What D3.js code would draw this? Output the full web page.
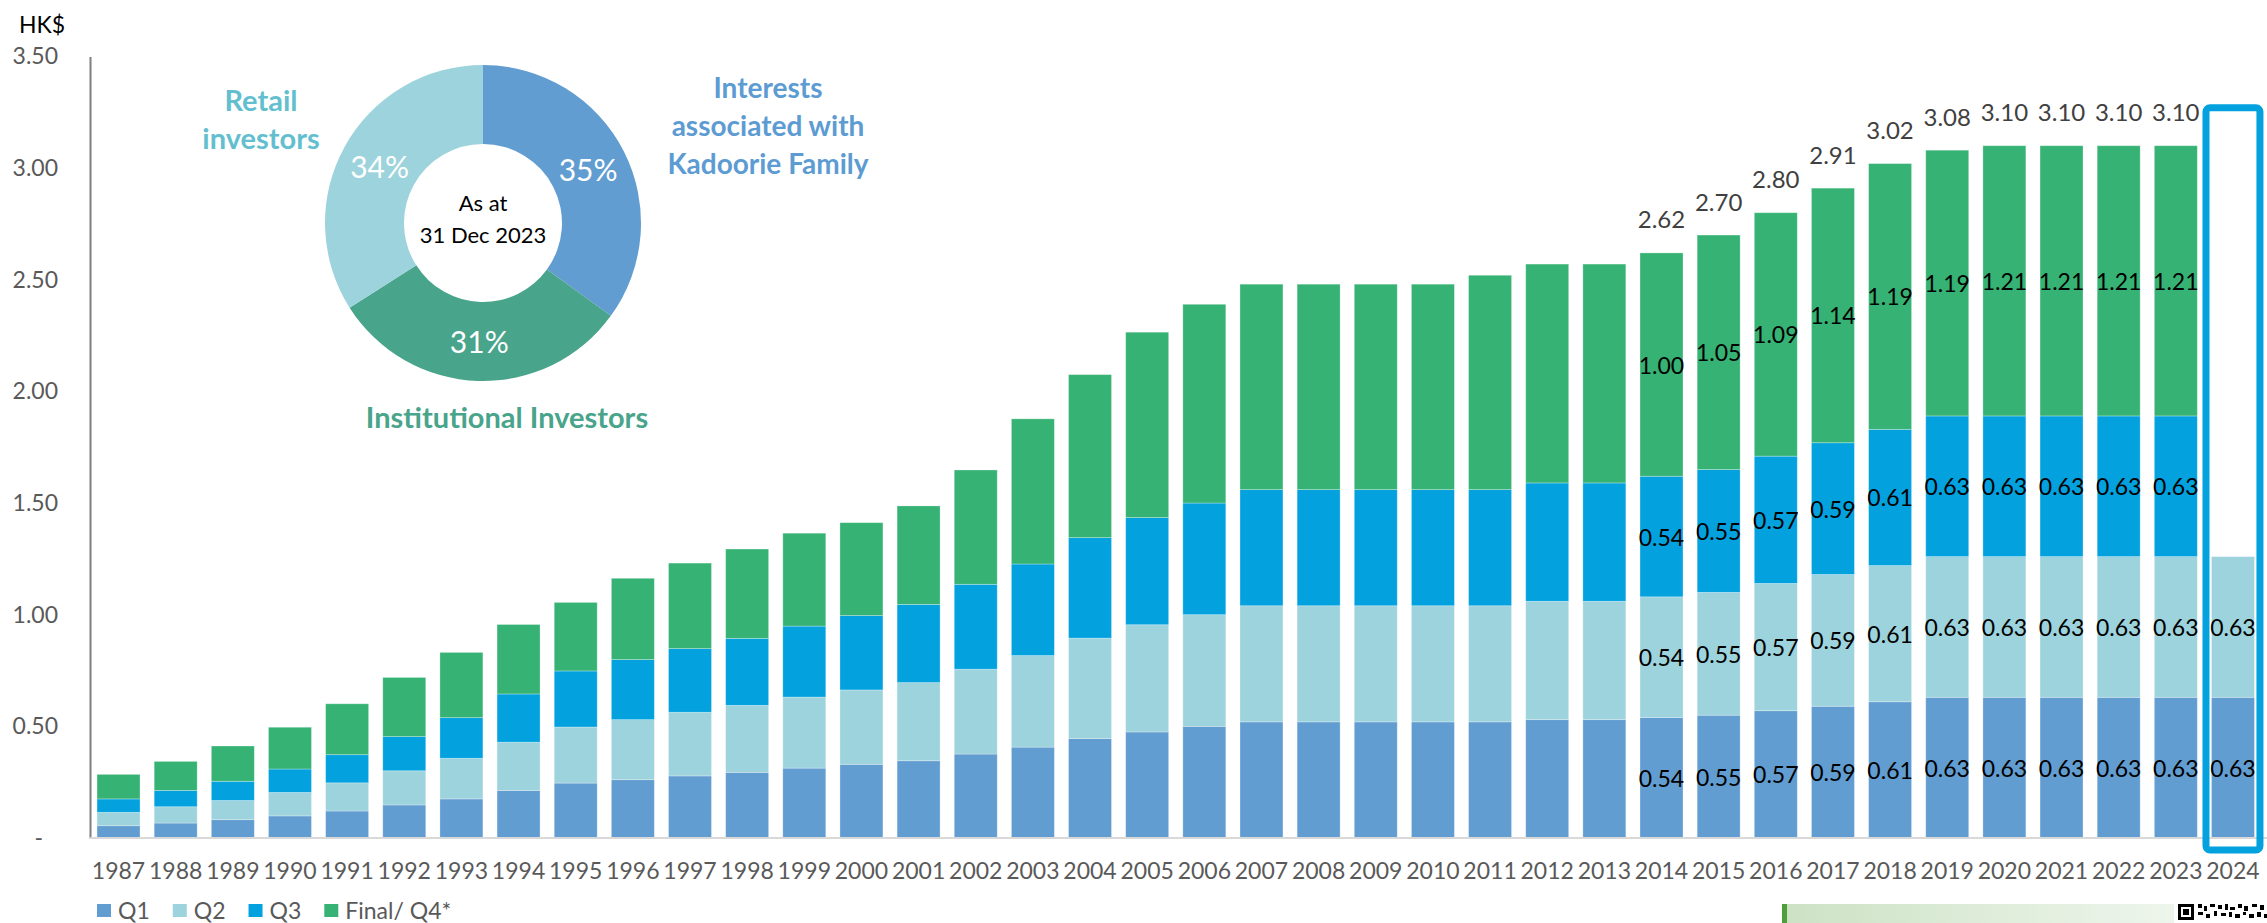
<!DOCTYPE html>
<html>
<head>
<meta charset="utf-8">
<script src="https://cdn.jsdelivr.net/npm/d3@7"></script>
<style>
html,body{margin:0;padding:0;background:#fff;}
svg{display:block;}
text{font-family:Lato, "Open Sans", sans-serif;}
</style>
</head>
<body>
<svg id="chart" width="2267" height="923"></svg>
<script>
// ---------------- data ----------------
const years = ["1987","1988","1989","1990","1991","1992","1993","1994","1995","1996",
  "1997","1998","1999","2000","2001","2002","2003","2004","2005","2006",
  "2007","2008","2009","2010","2011","2012","2013","2014","2015","2016",
  "2017","2018","2019","2020","2021","2022","2023","2024"];
const q1 = [0.055,0.067,0.082,0.099,0.121,0.148,0.175,0.213,0.246,0.261,
  0.278,0.294,0.313,0.330,0.346,0.376,0.407,0.445,0.475,0.50,
  0.52,0.52,0.52,0.52,0.52,0.53,0.53,0.54,0.55,0.57,
  0.59,0.61,0.63,0.63,0.63,0.63,0.63,0.63];
const q2 = [0.060,0.073,0.086,0.105,0.126,0.153,0.182,0.216,0.251,0.269,
  0.285,0.300,0.318,0.333,0.350,0.380,0.410,0.450,0.480,0.50,
  0.52,0.52,0.52,0.52,0.52,0.53,0.53,0.54,0.55,0.57,
  0.59,0.61,0.63,0.63,0.63,0.63,0.63,0.63];
const q3 = [0.060,0.073,0.086,0.105,0.126,0.153,0.182,0.216,0.251,0.269,
  0.285,0.300,0.318,0.333,0.350,0.380,0.410,0.450,0.480,0.50,
  0.52,0.52,0.52,0.52,0.52,0.53,0.53,0.54,0.55,0.57,
  0.59,0.61,0.63,0.63,0.63,0.63,0.63,null];
const q4 = [0.110,0.130,0.158,0.187,0.228,0.265,0.292,0.311,0.307,0.364,
  0.383,0.400,0.416,0.416,0.441,0.512,0.650,0.730,0.830,0.89,
  0.92,0.92,0.92,0.92,0.96,0.98,0.98,1.00,1.05,1.09,
  1.14,1.19,1.19,1.21,1.21,1.21,1.21,null];
const labeledYears = ["2014","2015","2016","2017","2018","2019","2020","2021","2022","2023","2024"];
const highlightYear = "2024";
const seriesNames = ["Q1","Q2","Q3","Final/ Q4*"];
const seriesColors = ["#629dd1","#9dd3dc","#03a2df","#36b374"];
const yTicks = [0,0.5,1.0,1.5,2.0,2.5,3.0,3.5];

const holderNames = ["Interests associated with Kadoorie Family","Institutional Investors","Retail investors"];
const holderShares = [35,31,34];
const holderColors = ["#629dd1","#48a48a","#9dd3dc"];
const holderLabelColors = ["#5d9bd3","#48a48a","#63bfcf"];

// ---------------- layout ----------------
const svg = d3.select("#chart");
const x = d3.scaleBand().domain(years).range([89.9, 2261.6]).paddingInner(0.248).paddingOuter(0.125);
const y = d3.scaleLinear().domain([0,3.5]).range([838,56.4]);

const rows = years.map((yr,i)=>({year:yr, Q1:q1[i], Q2:q2[i], Q3:q3[i], Q4:q4[i]}));
const keys = ["Q1","Q2","Q3","Q4"];
const stack = d3.stack().keys(keys).value((d,k)=> d[k]==null?0:d[k]);
const stacked = stack(rows);

// bars
const gBars = svg.append("g");
stacked.forEach((layer,li)=>{
  gBars.selectAll(null).data(layer.filter(d=>d.data[keys[li]]!=null)).enter().append("rect")
    .attr("x", d=>x(d.data.year))
    .attr("width", x.bandwidth())
    .attr("y", d=>y(d[1]))
    .attr("height", d=>y(d[0])-y(d[1]))
    .attr("fill", seriesColors[li])
    .attr("stroke","#ffffff").attr("stroke-opacity",0.35).attr("stroke-width",0.8);
});

// y axis
const yAxis = d3.axisLeft(y).tickValues(yTicks).tickSize(0).tickPadding(32)
  .tickFormat(d=> d===0 ? "-" : d3.format(".2f")(d));
const gy = svg.append("g").attr("transform","translate(90,0)").call(yAxis);
gy.select(".domain").attr("stroke","#7f7f7f").attr("stroke-width",2);
gy.selectAll(".tick text").attr("font-size",23).attr("fill","#595959").attr("font-family","Lato, sans-serif");
gy.selectAll(".tick").filter(d=>d===0).select("text").attr("dx",-15);

// x axis
const xAxis = d3.axisBottom(x).tickSize(0).tickPadding(25);
const gx = svg.append("g").attr("transform","translate(0,838)").call(xAxis);
gx.select(".domain").attr("stroke","#d9d9d9").attr("stroke-width",2);
gx.selectAll(".tick text").attr("font-size",23).attr("fill","#595959").attr("font-family","Lato, sans-serif");
gx.select(".domain").attr("d", `M90,0H${2267}`);

// HK$
svg.append("text").attr("x",19).attr("y",24).attr("dominant-baseline","central")
  .attr("font-size",23).attr("fill","#000").text("HK$");

// segment labels
const gLab = svg.append("g");
stacked.forEach((layer,li)=>{
  gLab.selectAll(null).data(layer.filter(d=>labeledYears.includes(d.data.year) && d.data[keys[li]]!=null))
    .enter().append("text")
    .attr("x", d=>x(d.data.year)+x.bandwidth()/2)
    .attr("y", d=>(y(d[0])+y(d[1]))/2)
    .attr("text-anchor","middle").attr("dominant-baseline","central")
    .attr("font-size",23).attr("fill","#000")
    .text(d=>d3.format(".2f")(d.data[keys[li]]));
});
// totals
const totalRows = rows.filter(r=>labeledYears.includes(r.year) && r.Q4!=null);
gLab.selectAll(null).data(totalRows).enter().append("text")
  .attr("x", d=>x(d.year)+x.bandwidth()/2)
  .attr("y", d=>y(d.Q1+d.Q2+d.Q3+d.Q4)-34)
  .attr("text-anchor","middle").attr("dominant-baseline","central")
  .attr("font-size",24).attr("fill","#404040")
  .text(d=>d3.format(".2f")(d.Q1+d.Q2+d.Q3+d.Q4));

// highlight box for 2024
const hx = x(highlightYear);
svg.append("rect")
  .attr("x", hx-5.5).attr("width", x.bandwidth()+11)
  .attr("y", y(3.10)-38).attr("height", y(0)+12-(y(3.10)-38))
  .attr("rx",4).attr("fill","none").attr("stroke","#03a2df").attr("stroke-width",7);

// legend
const gLeg = svg.append("g").attr("transform","translate(97,910)");
let lx = 0;
seriesNames.forEach((n,i)=>{
  gLeg.append("rect").attr("x",lx).attr("y",-6).attr("width",14).attr("height",13).attr("fill",seriesColors[i]);
  const t = gLeg.append("text").attr("x",lx+21).attr("y",0).attr("dominant-baseline","central")
    .attr("font-size",23).attr("fill","#595959").text(n);
  lx += 21 + t.node().getComputedTextLength() + 23;
});

// donut
const cx = 483, cy = 223;
const gD = svg.append("g").attr("transform",`translate(${cx},${cy})`);
const pie = d3.pie().sort(null).value(d=>d)(holderShares);
const arc = d3.arc().innerRadius(79).outerRadius(158);
gD.selectAll(null).data(pie).enter().append("path")
  .attr("d",arc).attr("fill",(d,i)=>holderColors[i]);
const labArc = d3.arc().innerRadius(118).outerRadius(118);
gD.selectAll(null).data(pie).enter().append("text")
  .attr("transform",d=>{const c=labArc.centroid(d);return `translate(${c[0]},${c[1]})`;})
  .attr("text-anchor","middle").attr("dominant-baseline","central")
  .attr("font-family","'Liberation Sans Narrow','Arial Narrow','Liberation Sans',sans-serif")
  .attr("font-size",30).attr("fill","#fff")
  .text(d=>d.data+"%");
gD.append("text").attr("x",0).attr("y",-21).attr("text-anchor","middle").attr("dominant-baseline","central")
  .attr("font-size",22).attr("fill","#000").text("As at");
gD.append("text").attr("x",0).attr("y",11).attr("text-anchor","middle").attr("dominant-baseline","central")
  .attr("font-size",22).attr("fill","#000").text("31 Dec 2023");

// holder category labels
const holderLabelPos = [
  {x:768, y:[87,125,163], lines:["Interests","associated with","Kadoorie Family"], size:28},
  {x:507, y:[416], lines:["Institutional Investors"], size:29},
  {x:261, y:[99,137], lines:["Retail","investors"], size:29}
];
holderLabelPos.forEach((p,i)=>{
  p.lines.forEach((ln,j)=>{
    svg.append("text").attr("x",p.x).attr("y",p.y[j]).attr("text-anchor","middle")
      .attr("dominant-baseline","central").attr("font-size",p.size).attr("font-weight","bold")
      .attr("fill",holderLabelColors[i]).text(ln);
  });
});

// footer decoration (bottom-right band)
const defs = svg.append("defs");
const grad = defs.append("linearGradient").attr("id","fg").attr("x1","0").attr("x2","1");
grad.append("stop").attr("offset","0").attr("stop-color","#cce2c4");
grad.append("stop").attr("offset","1").attr("stop-color","#eef5ec");
svg.append("rect").attr("x",1782).attr("y",904).attr("width",392).attr("height",19).attr("fill","url(#fg)");
svg.append("rect").attr("x",1782).attr("y",904).attr("width",5).attr("height",19).attr("fill","#4e9e3c");
const qr = svg.append("g").attr("transform","translate(2178,904)");
qr.append("rect").attr("x",1.5).attr("y",1.5).attr("width",13).attr("height",13).attr("fill","none").attr("stroke","#000").attr("stroke-width",3);
qr.append("rect").attr("x",5).attr("y",5).attr("width",6).attr("height",6).attr("fill","#000");
[[20,0,4,4],[26,2,3,5],[32,0,5,3],[40,1,4,4],[47,0,3,6],[52,3,5,3],[60,0,4,4],[66,2,4,5],[74,0,5,3],[82,1,4,5],
 [20,8,5,3],[28,10,4,4],[36,7,3,5],[43,9,5,3],[51,8,3,5],[57,10,5,4],[65,8,3,3],[71,10,5,4],[79,8,4,5],[86,10,3,4]]
 .forEach(b=>qr.append("rect").attr("x",b[0]).attr("y",b[1]).attr("width",b[2]).attr("height",b[3]).attr("fill","#000"));
</script>
</body>
</html>
